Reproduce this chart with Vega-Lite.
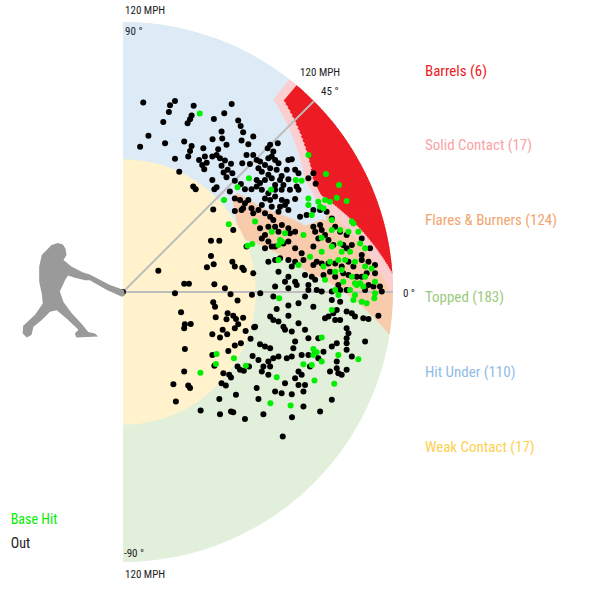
{
  "$schema": "https://vega.github.io/schema/vega-lite/v6.json",
  "width": 600,
  "height": 600,
  "autosize": {"type": "fit", "contains": "padding"},
  "padding": 0,
  "background": "white",
  "config": {"view": {"stroke": null}},
  "encoding": {
    "x": {"field": "x", "type": "quantitative", "scale": {"domain": [-54.67, 212], "nice": false, "zero": false}, "axis": null},
    "y": {"field": "y", "type": "quantitative", "scale": {"domain": [-136.89, 129.78], "nice": false, "zero": false}, "axis": null}
  },
  "layer": [
    {
      "data": {
        "values": [
          {"z": "Topped", "e1": 0, "e2": 120, "a1": -90, "a2": 90},
          {"z": "Hit Under", "e1": 59, "e2": 72.4, "a1": 25, "a2": 90},
          {"z": "Hit Under", "e1": 72, "e2": 86.4, "a1": 18, "a2": 90},
          {"z": "Hit Under", "e1": 86, "e2": 95.4, "a1": 12, "a2": 90},
          {"z": "Hit Under", "e1": 95, "e2": 120, "a1": 5, "a2": 90},
          {"z": "Flares & Burners", "e1": 71.45, "e2": 72.4, "a1": 13, "a2": 14.2},
          {"z": "Flares & Burners", "e1": 70.15, "e2": 72.4, "a1": 14, "a2": 15.2},
          {"z": "Flares & Burners", "e1": 68.85, "e2": 72.4, "a1": 15, "a2": 16.2},
          {"z": "Flares & Burners", "e1": 67.55, "e2": 72.4, "a1": 16, "a2": 17.2},
          {"z": "Flares & Burners", "e1": 66.25, "e2": 72.4, "a1": 17, "a2": 18.2},
          {"z": "Flares & Burners", "e1": 64.95, "e2": 72.4, "a1": 18, "a2": 19.2},
          {"z": "Flares & Burners", "e1": 63.65, "e2": 72.4, "a1": 19, "a2": 20.2},
          {"z": "Flares & Burners", "e1": 62.35, "e2": 72.4, "a1": 20, "a2": 21.2},
          {"z": "Flares & Burners", "e1": 61.05, "e2": 72.4, "a1": 21, "a2": 22.2},
          {"z": "Flares & Burners", "e1": 59.75, "e2": 72.4, "a1": 22, "a2": 23.2},
          {"z": "Flares & Burners", "e1": 59, "e2": 72.4, "a1": 23, "a2": 31.2},
          {"z": "Flares & Burners", "e1": 59.25, "e2": 71.75, "a1": 31, "a2": 32.2},
          {"z": "Flares & Burners", "e1": 59.75, "e2": 71.25, "a1": 32, "a2": 33.2},
          {"z": "Flares & Burners", "e1": 60.25, "e2": 70.75, "a1": 33, "a2": 34.2},
          {"z": "Flares & Burners", "e1": 60.75, "e2": 70.25, "a1": 34, "a2": 35.2},
          {"z": "Flares & Burners", "e1": 61.25, "e2": 69.75, "a1": 35, "a2": 36.2},
          {"z": "Flares & Burners", "e1": 61.75, "e2": 69.25, "a1": 36, "a2": 37.2},
          {"z": "Flares & Burners", "e1": 62.25, "e2": 68.75, "a1": 37, "a2": 38.2},
          {"z": "Flares & Burners", "e1": 62.75, "e2": 68.25, "a1": 38, "a2": 39.2},
          {"z": "Flares & Burners", "e1": 63.25, "e2": 67.75, "a1": 39, "a2": 40.2},
          {"z": "Flares & Burners", "e1": 63.75, "e2": 67.25, "a1": 40, "a2": 41},
          {"z": "Flares & Burners", "e1": 72, "e2": 73.3, "a1": 12.58, "a2": 30.38},
          {"z": "Flares & Burners", "e1": 73, "e2": 74.3, "a1": 11.94, "a2": 29.62},
          {"z": "Flares & Burners", "e1": 74, "e2": 75.3, "a1": 11.29, "a2": 28.85},
          {"z": "Flares & Burners", "e1": 75, "e2": 76.3, "a1": 10.65, "a2": 28.08},
          {"z": "Flares & Burners", "e1": 76, "e2": 77.3, "a1": 10, "a2": 27.31},
          {"z": "Flares & Burners", "e1": 77, "e2": 78.3, "a1": 9.35, "a2": 26.54},
          {"z": "Flares & Burners", "e1": 78, "e2": 79.3, "a1": 8.71, "a2": 25.77},
          {"z": "Flares & Burners", "e1": 79, "e2": 80.3, "a1": 8.06, "a2": 25},
          {"z": "Flares & Burners", "e1": 80, "e2": 81.3, "a1": 7.42, "a2": 24.23},
          {"z": "Flares & Burners", "e1": 81, "e2": 82.3, "a1": 6.77, "a2": 23.46},
          {"z": "Flares & Burners", "e1": 82, "e2": 83.3, "a1": 6.13, "a2": 22.69},
          {"z": "Flares & Burners", "e1": 83, "e2": 84.3, "a1": 5.48, "a2": 21.92},
          {"z": "Flares & Burners", "e1": 84, "e2": 85.3, "a1": 4.84, "a2": 21.15},
          {"z": "Flares & Burners", "e1": 85, "e2": 86.3, "a1": 4.19, "a2": 20.38},
          {"z": "Flares & Burners", "e1": 86, "e2": 87.3, "a1": 4.79, "a2": 20},
          {"z": "Flares & Burners", "e1": 87, "e2": 88.3, "a1": 4.38, "a2": 20},
          {"z": "Flares & Burners", "e1": 88, "e2": 89.3, "a1": 3.96, "a2": 20},
          {"z": "Flares & Burners", "e1": 89, "e2": 90.3, "a1": 3.54, "a2": 20},
          {"z": "Flares & Burners", "e1": 90, "e2": 91.3, "a1": 3.13, "a2": 20},
          {"z": "Flares & Burners", "e1": 91, "e2": 92.3, "a1": 2.71, "a2": 20},
          {"z": "Flares & Burners", "e1": 92, "e2": 93.3, "a1": 2.29, "a2": 20},
          {"z": "Flares & Burners", "e1": 93, "e2": 94.3, "a1": 1.88, "a2": 20},
          {"z": "Flares & Burners", "e1": 94, "e2": 95.3, "a1": 1.46, "a2": 20},
          {"z": "Flares & Burners", "e1": 95, "e2": 96.3, "a1": 1.04, "a2": 19.5},
          {"z": "Flares & Burners", "e1": 96, "e2": 97.3, "a1": 0.63, "a2": 20.5},
          {"z": "Flares & Burners", "e1": 97, "e2": 98.3, "a1": 0.21, "a2": 21.5},
          {"z": "Flares & Burners", "e1": 98, "e2": 99.3, "a1": -0.21, "a2": 22.5},
          {"z": "Flares & Burners", "e1": 99, "e2": 100.3, "a1": -0.63, "a2": 23.5},
          {"z": "Flares & Burners", "e1": 100, "e2": 101.3, "a1": -1.04, "a2": 24.5},
          {"z": "Flares & Burners", "e1": 101, "e2": 102.3, "a1": -1.46, "a2": 25.5},
          {"z": "Flares & Burners", "e1": 102, "e2": 103.3, "a1": -1.88, "a2": 26.5},
          {"z": "Flares & Burners", "e1": 103, "e2": 104.3, "a1": -2.29, "a2": 27.5},
          {"z": "Flares & Burners", "e1": 104, "e2": 105.3, "a1": -2.71, "a2": 28.5},
          {"z": "Flares & Burners", "e1": 105, "e2": 106.3, "a1": -3.13, "a2": 29.5},
          {"z": "Flares & Burners", "e1": 106, "e2": 107.3, "a1": -3.54, "a2": 30},
          {"z": "Flares & Burners", "e1": 107, "e2": 108.3, "a1": -3.96, "a2": 30},
          {"z": "Flares & Burners", "e1": 108, "e2": 109.3, "a1": -4.38, "a2": 30},
          {"z": "Flares & Burners", "e1": 109, "e2": 110.3, "a1": -4.79, "a2": 30},
          {"z": "Flares & Burners", "e1": 110, "e2": 111.3, "a1": -5.21, "a2": 30},
          {"z": "Flares & Burners", "e1": 111, "e2": 112.3, "a1": -5.63, "a2": 30},
          {"z": "Flares & Burners", "e1": 112, "e2": 113.3, "a1": -6.04, "a2": 30},
          {"z": "Flares & Burners", "e1": 113, "e2": 114.3, "a1": -6.46, "a2": 30},
          {"z": "Flares & Burners", "e1": 114, "e2": 115.3, "a1": -6.88, "a2": 30},
          {"z": "Flares & Burners", "e1": 115, "e2": 116.3, "a1": -7.29, "a2": 30},
          {"z": "Flares & Burners", "e1": 116, "e2": 117.3, "a1": -7.71, "a2": 30},
          {"z": "Flares & Burners", "e1": 117, "e2": 118.3, "a1": -8.13, "a2": 30},
          {"z": "Flares & Burners", "e1": 118, "e2": 119.3, "a1": -8.54, "a2": 30},
          {"z": "Flares & Burners", "e1": 119, "e2": 120, "a1": -8.96, "a2": 30},
          {"z": "Solid Contact", "e1": 118.75, "e2": 120, "a1": 0, "a2": 0.65},
          {"z": "Solid Contact", "e1": 118.25, "e2": 120, "a1": 0.5, "a2": 1.15},
          {"z": "Solid Contact", "e1": 117.75, "e2": 120, "a1": 1, "a2": 1.65},
          {"z": "Solid Contact", "e1": 117.25, "e2": 120, "a1": 1.5, "a2": 2.15},
          {"z": "Solid Contact", "e1": 116.75, "e2": 120, "a1": 2, "a2": 2.65},
          {"z": "Solid Contact", "e1": 116.25, "e2": 120, "a1": 2.5, "a2": 3.15},
          {"z": "Solid Contact", "e1": 115.75, "e2": 120, "a1": 3, "a2": 3.65},
          {"z": "Solid Contact", "e1": 115.25, "e2": 120, "a1": 3.5, "a2": 4.15},
          {"z": "Solid Contact", "e1": 114.75, "e2": 120, "a1": 4, "a2": 4.65},
          {"z": "Solid Contact", "e1": 114.25, "e2": 120, "a1": 4.5, "a2": 5.15},
          {"z": "Solid Contact", "e1": 113.75, "e2": 120, "a1": 5, "a2": 5.65},
          {"z": "Solid Contact", "e1": 113.25, "e2": 120, "a1": 5.5, "a2": 6.15},
          {"z": "Solid Contact", "e1": 112.75, "e2": 120, "a1": 6, "a2": 6.65},
          {"z": "Solid Contact", "e1": 112.25, "e2": 120, "a1": 6.5, "a2": 7.15},
          {"z": "Solid Contact", "e1": 111.75, "e2": 120, "a1": 7, "a2": 7.65},
          {"z": "Solid Contact", "e1": 111.25, "e2": 120, "a1": 7.5, "a2": 8.15},
          {"z": "Solid Contact", "e1": 110.75, "e2": 120, "a1": 8, "a2": 8.65},
          {"z": "Solid Contact", "e1": 110.25, "e2": 120, "a1": 8.5, "a2": 9.15},
          {"z": "Solid Contact", "e1": 109.75, "e2": 120, "a1": 9, "a2": 9.65},
          {"z": "Solid Contact", "e1": 109.25, "e2": 120, "a1": 9.5, "a2": 10.15},
          {"z": "Solid Contact", "e1": 108.75, "e2": 120, "a1": 10, "a2": 10.65},
          {"z": "Solid Contact", "e1": 108.25, "e2": 120, "a1": 10.5, "a2": 11.15},
          {"z": "Solid Contact", "e1": 107.75, "e2": 120, "a1": 11, "a2": 11.65},
          {"z": "Solid Contact", "e1": 107.25, "e2": 120, "a1": 11.5, "a2": 12.15},
          {"z": "Solid Contact", "e1": 106.75, "e2": 120, "a1": 12, "a2": 12.65},
          {"z": "Solid Contact", "e1": 106.25, "e2": 120, "a1": 12.5, "a2": 13.15},
          {"z": "Solid Contact", "e1": 105.75, "e2": 120, "a1": 13, "a2": 13.65},
          {"z": "Solid Contact", "e1": 105.25, "e2": 120, "a1": 13.5, "a2": 14.15},
          {"z": "Solid Contact", "e1": 104.75, "e2": 120, "a1": 14, "a2": 14.65},
          {"z": "Solid Contact", "e1": 104.25, "e2": 120, "a1": 14.5, "a2": 15.15},
          {"z": "Solid Contact", "e1": 103.75, "e2": 120, "a1": 15, "a2": 15.65},
          {"z": "Solid Contact", "e1": 103.25, "e2": 120, "a1": 15.5, "a2": 16.15},
          {"z": "Solid Contact", "e1": 102.75, "e2": 120, "a1": 16, "a2": 16.65},
          {"z": "Solid Contact", "e1": 102.25, "e2": 120, "a1": 16.5, "a2": 17.15},
          {"z": "Solid Contact", "e1": 101.75, "e2": 120, "a1": 17, "a2": 17.65},
          {"z": "Solid Contact", "e1": 101.25, "e2": 120, "a1": 17.5, "a2": 18.15},
          {"z": "Solid Contact", "e1": 100.75, "e2": 120, "a1": 18, "a2": 18.65},
          {"z": "Solid Contact", "e1": 100.25, "e2": 120, "a1": 18.5, "a2": 19.15},
          {"z": "Solid Contact", "e1": 99.75, "e2": 120, "a1": 19, "a2": 19.65},
          {"z": "Solid Contact", "e1": 99.25, "e2": 120, "a1": 19.5, "a2": 20.15},
          {"z": "Solid Contact", "e1": 98.75, "e2": 120, "a1": 20, "a2": 20.65},
          {"z": "Solid Contact", "e1": 98.25, "e2": 120, "a1": 20.5, "a2": 21.15},
          {"z": "Solid Contact", "e1": 97.75, "e2": 120, "a1": 21, "a2": 21.65},
          {"z": "Solid Contact", "e1": 97.25, "e2": 120, "a1": 21.5, "a2": 22.15},
          {"z": "Solid Contact", "e1": 96.75, "e2": 120, "a1": 22, "a2": 22.65},
          {"z": "Solid Contact", "e1": 96.25, "e2": 120, "a1": 22.5, "a2": 23.15},
          {"z": "Solid Contact", "e1": 95.75, "e2": 120, "a1": 23, "a2": 23.65},
          {"z": "Solid Contact", "e1": 95.25, "e2": 120, "a1": 23.5, "a2": 24.15},
          {"z": "Solid Contact", "e1": 95, "e2": 120, "a1": 24, "a2": 32.2},
          {"z": "Solid Contact", "e1": 95.67, "e2": 120, "a1": 32, "a2": 33.2},
          {"z": "Solid Contact", "e1": 96.33, "e2": 120, "a1": 33, "a2": 34.2},
          {"z": "Solid Contact", "e1": 97, "e2": 120, "a1": 34, "a2": 35.2},
          {"z": "Solid Contact", "e1": 97.67, "e2": 120, "a1": 35, "a2": 36.2},
          {"z": "Solid Contact", "e1": 98.33, "e2": 120, "a1": 36, "a2": 37.2},
          {"z": "Solid Contact", "e1": 99, "e2": 120, "a1": 37, "a2": 38.2},
          {"z": "Solid Contact", "e1": 99.67, "e2": 120, "a1": 38, "a2": 39.2},
          {"z": "Solid Contact", "e1": 100.33, "e2": 120, "a1": 39, "a2": 40.2},
          {"z": "Solid Contact", "e1": 101, "e2": 120, "a1": 40, "a2": 41.2},
          {"z": "Solid Contact", "e1": 101.67, "e2": 120, "a1": 41, "a2": 42.2},
          {"z": "Solid Contact", "e1": 102.33, "e2": 120, "a1": 42, "a2": 43.2},
          {"z": "Solid Contact", "e1": 103, "e2": 120, "a1": 43, "a2": 44.2},
          {"z": "Solid Contact", "e1": 103.67, "e2": 120, "a1": 44, "a2": 45.2},
          {"z": "Solid Contact", "e1": 104.33, "e2": 120, "a1": 45, "a2": 46.2},
          {"z": "Solid Contact", "e1": 105, "e2": 120, "a1": 46, "a2": 47.2},
          {"z": "Solid Contact", "e1": 105.67, "e2": 120, "a1": 47, "a2": 48.2},
          {"z": "Solid Contact", "e1": 106.33, "e2": 120, "a1": 48, "a2": 49.2},
          {"z": "Solid Contact", "e1": 107, "e2": 120, "a1": 49, "a2": 50.2},
          {"z": "Solid Contact", "e1": 107.67, "e2": 120, "a1": 50, "a2": 51.2},
          {"z": "Solid Contact", "e1": 108.33, "e2": 120, "a1": 51, "a2": 52},
          {"z": "Barrels", "e1": 119.75, "e2": 120, "a1": 4, "a2": 4.65},
          {"z": "Barrels", "e1": 119.25, "e2": 120, "a1": 4.5, "a2": 5.15},
          {"z": "Barrels", "e1": 118.75, "e2": 120, "a1": 5, "a2": 5.65},
          {"z": "Barrels", "e1": 118.25, "e2": 120, "a1": 5.5, "a2": 6.15},
          {"z": "Barrels", "e1": 117.75, "e2": 120, "a1": 6, "a2": 6.65},
          {"z": "Barrels", "e1": 117.25, "e2": 120, "a1": 6.5, "a2": 7.15},
          {"z": "Barrels", "e1": 116.75, "e2": 120, "a1": 7, "a2": 7.65},
          {"z": "Barrels", "e1": 116.25, "e2": 120, "a1": 7.5, "a2": 8.15},
          {"z": "Barrels", "e1": 115.75, "e2": 120, "a1": 8, "a2": 8.65},
          {"z": "Barrels", "e1": 115.25, "e2": 120, "a1": 8.5, "a2": 9.15},
          {"z": "Barrels", "e1": 114.75, "e2": 120, "a1": 9, "a2": 9.65},
          {"z": "Barrels", "e1": 114.25, "e2": 120, "a1": 9.5, "a2": 10.15},
          {"z": "Barrels", "e1": 113.75, "e2": 120, "a1": 10, "a2": 10.65},
          {"z": "Barrels", "e1": 113.25, "e2": 120, "a1": 10.5, "a2": 11.15},
          {"z": "Barrels", "e1": 112.75, "e2": 120, "a1": 11, "a2": 11.65},
          {"z": "Barrels", "e1": 112.25, "e2": 120, "a1": 11.5, "a2": 12.15},
          {"z": "Barrels", "e1": 111.75, "e2": 120, "a1": 12, "a2": 12.65},
          {"z": "Barrels", "e1": 111.25, "e2": 120, "a1": 12.5, "a2": 13.15},
          {"z": "Barrels", "e1": 110.75, "e2": 120, "a1": 13, "a2": 13.65},
          {"z": "Barrels", "e1": 110.25, "e2": 120, "a1": 13.5, "a2": 14.15},
          {"z": "Barrels", "e1": 109.75, "e2": 120, "a1": 14, "a2": 14.65},
          {"z": "Barrels", "e1": 109.25, "e2": 120, "a1": 14.5, "a2": 15.15},
          {"z": "Barrels", "e1": 108.75, "e2": 120, "a1": 15, "a2": 15.65},
          {"z": "Barrels", "e1": 108.25, "e2": 120, "a1": 15.5, "a2": 16.15},
          {"z": "Barrels", "e1": 107.75, "e2": 120, "a1": 16, "a2": 16.65},
          {"z": "Barrels", "e1": 107.25, "e2": 120, "a1": 16.5, "a2": 17.15},
          {"z": "Barrels", "e1": 106.75, "e2": 120, "a1": 17, "a2": 17.65},
          {"z": "Barrels", "e1": 106.25, "e2": 120, "a1": 17.5, "a2": 18.15},
          {"z": "Barrels", "e1": 105.75, "e2": 120, "a1": 18, "a2": 18.65},
          {"z": "Barrels", "e1": 105.25, "e2": 120, "a1": 18.5, "a2": 19.15},
          {"z": "Barrels", "e1": 104.75, "e2": 120, "a1": 19, "a2": 19.65},
          {"z": "Barrels", "e1": 104.25, "e2": 120, "a1": 19.5, "a2": 20.15},
          {"z": "Barrels", "e1": 103.75, "e2": 120, "a1": 20, "a2": 20.65},
          {"z": "Barrels", "e1": 103.25, "e2": 120, "a1": 20.5, "a2": 21.15},
          {"z": "Barrels", "e1": 102.75, "e2": 120, "a1": 21, "a2": 21.65},
          {"z": "Barrels", "e1": 102.25, "e2": 120, "a1": 21.5, "a2": 22.15},
          {"z": "Barrels", "e1": 101.75, "e2": 120, "a1": 22, "a2": 22.65},
          {"z": "Barrels", "e1": 101.25, "e2": 120, "a1": 22.5, "a2": 23.15},
          {"z": "Barrels", "e1": 100.75, "e2": 120, "a1": 23, "a2": 23.65},
          {"z": "Barrels", "e1": 100.25, "e2": 120, "a1": 23.5, "a2": 24.15},
          {"z": "Barrels", "e1": 99.75, "e2": 120, "a1": 24, "a2": 24.65},
          {"z": "Barrels", "e1": 99.25, "e2": 120, "a1": 24.5, "a2": 25.15},
          {"z": "Barrels", "e1": 98.75, "e2": 120, "a1": 25, "a2": 25.65},
          {"z": "Barrels", "e1": 98.25, "e2": 120, "a1": 25.5, "a2": 26.15},
          {"z": "Barrels", "e1": 98, "e2": 120, "a1": 26, "a2": 30.2},
          {"z": "Barrels", "e1": 98.33, "e2": 120, "a1": 30, "a2": 31.2},
          {"z": "Barrels", "e1": 99, "e2": 120, "a1": 31, "a2": 32.2},
          {"z": "Barrels", "e1": 99.67, "e2": 120, "a1": 32, "a2": 33.2},
          {"z": "Barrels", "e1": 100.33, "e2": 120, "a1": 33, "a2": 34.2},
          {"z": "Barrels", "e1": 101, "e2": 120, "a1": 34, "a2": 35.2},
          {"z": "Barrels", "e1": 101.67, "e2": 120, "a1": 35, "a2": 36.2},
          {"z": "Barrels", "e1": 102.33, "e2": 120, "a1": 36, "a2": 37.2},
          {"z": "Barrels", "e1": 103, "e2": 120, "a1": 37, "a2": 38.2},
          {"z": "Barrels", "e1": 103.67, "e2": 120, "a1": 38, "a2": 39.2},
          {"z": "Barrels", "e1": 104.33, "e2": 120, "a1": 39, "a2": 40.2},
          {"z": "Barrels", "e1": 105, "e2": 120, "a1": 40, "a2": 41.2},
          {"z": "Barrels", "e1": 105.67, "e2": 120, "a1": 41, "a2": 42.2},
          {"z": "Barrels", "e1": 106.33, "e2": 120, "a1": 42, "a2": 43.2},
          {"z": "Barrels", "e1": 107, "e2": 120, "a1": 43, "a2": 44.2},
          {"z": "Barrels", "e1": 107.67, "e2": 120, "a1": 44, "a2": 45.2},
          {"z": "Barrels", "e1": 108.33, "e2": 120, "a1": 45, "a2": 46.2},
          {"z": "Barrels", "e1": 109, "e2": 120, "a1": 46, "a2": 47.2},
          {"z": "Barrels", "e1": 109.67, "e2": 120, "a1": 47, "a2": 48.2},
          {"z": "Barrels", "e1": 110.33, "e2": 120, "a1": 48, "a2": 49.2},
          {"z": "Barrels", "e1": 111, "e2": 120, "a1": 49, "a2": 50},
          {"z": "Weak Contact", "e1": 0, "e2": 59, "a1": -90, "a2": 90}
        ]
      },
      "mark": {"type": "arc", "x": {"expr": "scale('x', 0)"}, "y": {"expr": "scale('y', 0)"}},
      "encoding": {
        "x": null,
        "y": null,
        "theta": {"field": "a1", "type": "quantitative", "stack": null, "scale": {"type": "linear", "domain": [-90, 90], "range": [3.14159265, 0]}},
        "theta2": {"field": "a2"},
        "radius": {"field": "e2", "type": "quantitative", "scale": {"type": "linear", "domain": [0, 120], "range": [0, 270], "zero": false}},
        "radius2": {"field": "e1"},
        "color": {
          "field": "z",
          "type": "nominal",
          "scale": {
            "domain": ["Barrels", "Solid Contact", "Flares & Burners", "Topped", "Hit Under", "Weak Contact"],
            "range": ["#ed1c24", "#fbcfd0", "#f8cbad", "#e2efda", "#ddebf7", "#fff2cc"]
          },
          "legend": null
        }
      }
    },
    {
      "data": {"values": [{"x": 0, "y": 0, "x2": 84.85, "y2": 84.85}, {"x": 0, "y": 0, "x2": 120, "y2": 0}]},
      "mark": {"type": "rule", "color": "#bdbdbd", "strokeWidth": 2},
      "encoding": {"x2": {"field": "x2"}, "y2": {"field": "y2"}}
    },
    {
      "data": {
        "values": [
          {"x":9,"y":84.2,"r":"Out"},{"x":23.1,"y":84.9,"r":"Out"},{"x":20.9,"y":83,"r":"Out"},{"x":20.4,"y":80,"r":"Out"},{"x":31.4,"y":82.8,"r":"Out"},
          {"x":17.9,"y":75.6,"r":"Out"},{"x":30.5,"y":78.5,"r":"Out"},{"x":29.8,"y":76.8,"r":"Out"},{"x":28.7,"y":75,"r":"Out"},{"x":40.4,"y":76.9,"r":"Out"},
          {"x":45,"y":79.4,"r":"Out"},{"x":48.3,"y":83.6,"r":"Out"},{"x":51.2,"y":76.2,"r":"Out"},{"x":52.3,"y":73.8,"r":"Out"},{"x":53.4,"y":71,"r":"Out"},
          {"x":11.3,"y":69.5,"r":"Out"},{"x":7.6,"y":64.6,"r":"Out"},{"x":18.7,"y":66.1,"r":"Out"},{"x":27.2,"y":66.9,"r":"Out"},{"x":30.5,"y":64.9,"r":"Out"},
          {"x":29.8,"y":62.7,"r":"Out"},{"x":29,"y":60.2,"r":"Out"},{"x":23.1,"y":59.2,"r":"Out"},{"x":35.7,"y":63.9,"r":"Out"},{"x":39.8,"y":67.9,"r":"Out"},
          {"x":43.8,"y":71.3,"r":"Out"},{"x":44.1,"y":68.2,"r":"Out"},{"x":46,"y":65.4,"r":"Out"},{"x":52.7,"y":67.3,"r":"Out"},{"x":55.7,"y":65.7,"r":"Out"},
          {"x":57.9,"y":69.1,"r":"Out"},{"x":42.3,"y":63.5,"r":"Out"},{"x":39.7,"y":60.2,"r":"Out"},{"x":41.6,"y":60.9,"r":"Out"},{"x":36.4,"y":60.2,"r":"Out"},
          {"x":33.8,"y":58.7,"r":"Out"},{"x":35.2,"y":56.5,"r":"Out"},{"x":37.2,"y":57.5,"r":"Out"},{"x":36.1,"y":54.6,"r":"Out"},{"x":43.1,"y":59.5,"r":"Out"},
          {"x":45.3,"y":58.4,"r":"Out"},{"x":43.8,"y":56.1,"r":"Out"},{"x":48,"y":57,"r":"Out"},{"x":46.5,"y":54.3,"r":"Out"},{"x":44.7,"y":53.1,"r":"Out"},
          {"x":48.6,"y":52.8,"r":"Out"},{"x":46,"y":51,"r":"Out"},{"x":25,"y":53.5,"r":"Out"},{"x":39.7,"y":49.8,"r":"Out"},{"x":41.6,"y":46.6,"r":"Out"},
          {"x":40.6,"y":45.7,"r":"Out"},{"x":31.2,"y":46.9,"r":"Out"},{"x":32.3,"y":45.7,"r":"Out"},{"x":49.7,"y":49.5,"r":"Out"},{"x":52.4,"y":48,"r":"Out"},
          {"x":54.2,"y":45.7,"r":"Out"},{"x":57.1,"y":45.7,"r":"Out"},{"x":59.4,"y":49.8,"r":"Out"},{"x":54.9,"y":60.9,"r":"Out"},{"x":57.9,"y":60.9,"r":"Out"},
          {"x":53,"y":57.2,"r":"Out"},{"x":56.4,"y":56.9,"r":"Out"},{"x":47.5,"y":44.7,"r":"Out"},
          {"x":68.8,"y":66.1,"r":"Out"},{"x":65.4,"y":65.4,"r":"Out"},{"x":64.3,"y":63.9,"r":"Out"},{"x":66.8,"y":62.4,"r":"Out"},{"x":66.1,"y":60.2,"r":"Out"},
          {"x":64.6,"y":59.5,"r":"Out"},{"x":67.6,"y":58.7,"r":"Out"},{"x":69.1,"y":57.2,"r":"Out"},{"x":68.3,"y":54.3,"r":"Out"},{"x":65.4,"y":55,"r":"Out"},
          {"x":63.1,"y":56.5,"r":"Out"},{"x":60.9,"y":58,"r":"Out"},{"x":59.4,"y":58.7,"r":"Out"},{"x":60.2,"y":55,"r":"Out"},{"x":61.7,"y":53.5,"r":"Out"},
          {"x":64.6,"y":52.1,"r":"Out"},{"x":66.1,"y":50.6,"r":"Out"},{"x":63.1,"y":49.8,"r":"Out"},{"x":60.9,"y":48.4,"r":"Out"},{"x":73.5,"y":58.7,"r":"Out"},
          {"x":75,"y":59,"r":"Out"},{"x":72.8,"y":54.3,"r":"Out"},{"x":76.5,"y":54.3,"r":"Out"},{"x":78,"y":52.8,"r":"Out"},{"x":70.5,"y":51.6,"r":"Out"},
          {"x":69.8,"y":49.8,"r":"Out"},{"x":73.5,"y":50.1,"r":"Out"},{"x":71.3,"y":47.6,"r":"Out"},{"x":67.6,"y":47.6,"r":"Out"},{"x":77.2,"y":46.9,"r":"Out"},
          {"x":78,"y":45.4,"r":"Out"},{"x":74.2,"y":45.4,"r":"Out"},{"x":70.5,"y":45.4,"r":"Out"},{"x":67.6,"y":45.4,"r":"Out"},{"x":64.6,"y":43.9,"r":"Out"},
          {"x":61.7,"y":45.4,"r":"Out"},{"x":59.4,"y":46.9,"r":"Out"},{"x":82.4,"y":50.6,"r":"Out"},{"x":84.6,"y":52.8,"r":"Out"},{"x":85.6,"y":48.1,"r":"Out"},
          {"x":40.1,"y":36.7,"r":"Out"},{"x":49,"y":27.6,"r":"Out"},{"x":39.1,"y":22.8,"r":"Out"},{"x":42.8,"y":22.8,"r":"Out"},{"x":39.1,"y":16,"r":"Out"},
          {"x":37.3,"y":11,"r":"Out"},{"x":40.3,"y":12.3,"r":"Out"},{"x":48.6,"y":13.5,"r":"Out"},{"x":49.7,"y":11.3,"r":"Out"},{"x":53,"y":10.8,"r":"Out"},
          {"x":53.7,"y":9.8,"r":"Out"},{"x":57.9,"y":8.3,"r":"Out"},{"x":15.7,"y":9.4,"r":"Out"},{"x":27.2,"y":3.7,"r":"Out"},{"x":29.3,"y":3.7,"r":"Out"},
          {"x":40.6,"y":3.4,"r":"Out"},{"x":45.3,"y":1.7,"r":"Out"},{"x":23.1,"y":-0.6,"r":"Out"},{"x":54.9,"y":20.2,"r":"Out"},{"x":49.7,"y":41.6,"r":"Out"},
          {"x":52,"y":40.9,"r":"Out"},{"x":54.2,"y":39.4,"r":"Out"},{"x":52.7,"y":36.4,"r":"Out"},{"x":49.7,"y":36,"r":"Out"},{"x":55.7,"y":40.9,"r":"Out"},
          {"x":57.1,"y":37.2,"r":"Out"},{"x":53.4,"y":37.2,"r":"Out"},{"x":57.9,"y":35,"r":"Out"},{"x":47.8,"y":-1,"r":"Out"},{"x":57.3,"y":-1.2,"r":"Out"},
          {"x":61,"y":-0.5,"r":"Out"},
          {"x":63.1,"y":41.6,"r":"Out"},{"x":65.4,"y":40.9,"r":"Out"},{"x":67.6,"y":42.4,"r":"Out"},{"x":70.6,"y":40.9,"r":"Out"},{"x":72.8,"y":40.1,"r":"Out"},
          {"x":76.5,"y":41.3,"r":"Out"},{"x":61.7,"y":38.7,"r":"Out"},{"x":66.1,"y":37.9,"r":"Out"},{"x":69.8,"y":37.9,"r":"Out"},{"x":72,"y":38.7,"r":"Out"},
          {"x":60.2,"y":36.4,"r":"Out"},{"x":63.1,"y":35,"r":"Out"},{"x":65.4,"y":33.5,"r":"Out"},{"x":66.8,"y":32,"r":"Out"},{"x":69.1,"y":35.7,"r":"Out"},
          {"x":73.5,"y":36.4,"r":"Out"},{"x":78.7,"y":33.5,"r":"Out"},{"x":81.6,"y":34.2,"r":"Out"},{"x":84.6,"y":36.4,"r":"Out"},{"x":87.6,"y":36.4,"r":"Out"},
          {"x":90.5,"y":35.7,"r":"Out"},{"x":92.8,"y":32.7,"r":"Out"},{"x":60.9,"y":28.3,"r":"Out"},{"x":64.6,"y":29,"r":"Out"},{"x":67.6,"y":29,"r":"Out"},
          {"x":69.1,"y":26.8,"r":"Out"},{"x":70.6,"y":29.8,"r":"Out"},{"x":73.5,"y":28.3,"r":"Out"},{"x":74.2,"y":26.1,"r":"Out"},{"x":76.5,"y":26.8,"r":"Out"},
          {"x":84.6,"y":29,"r":"Out"},{"x":85.4,"y":26.8,"r":"Out"},{"x":87.6,"y":29.8,"r":"Out"},{"x":88.3,"y":27.6,"r":"Out"},{"x":89.8,"y":25.3,"r":"Out"},
          {"x":94.3,"y":29,"r":"Out"},{"x":96.5,"y":26.8,"r":"Out"},{"x":99.4,"y":25.3,"r":"Out"},{"x":106.1,"y":23.8,"r":"Out"},{"x":63.1,"y":25.3,"r":"Out"},
          {"x":61.7,"y":23.8,"r":"Out"},{"x":64.6,"y":22.4,"r":"Out"},{"x":66.1,"y":20.2,"r":"Out"},{"x":63.1,"y":19.4,"r":"Out"},{"x":67.6,"y":20.2,"r":"Out"},
          {"x":71.3,"y":21.6,"r":"Out"},{"x":73.5,"y":22.4,"r":"Out"},{"x":76.5,"y":19.4,"r":"Out"},{"x":79.4,"y":17.2,"r":"Out"},{"x":84.6,"y":20.2,"r":"Out"},
          {"x":86.8,"y":23.8,"r":"Out"},{"x":91.3,"y":23.1,"r":"Out"},{"x":93.5,"y":20.9,"r":"Out"},{"x":97.9,"y":20.9,"r":"Out"},{"x":99.4,"y":19.4,"r":"Out"},
          {"x":101.7,"y":20.9,"r":"Out"},{"x":106.1,"y":16.4,"r":"Out"},{"x":109.8,"y":19.4,"r":"Out"},{"x":64.6,"y":13.5,"r":"Out"},{"x":67.6,"y":14.2,"r":"Out"},
          {"x":69.8,"y":15,"r":"Out"},{"x":73.5,"y":14.2,"r":"Out"},{"x":76.5,"y":13.5,"r":"Out"},{"x":75,"y":11.3,"r":"Out"},{"x":80.2,"y":14.2,"r":"Out"},
          {"x":84.6,"y":12,"r":"Out"},{"x":86.1,"y":13.5,"r":"Out"},{"x":88.3,"y":12.7,"r":"Out"},{"x":91.3,"y":12.7,"r":"Out"},{"x":94.3,"y":12.7,"r":"Out"},
          {"x":97.2,"y":11.3,"r":"Out"},{"x":100.2,"y":13.5,"r":"Out"},{"x":102.4,"y":11.3,"r":"Out"},{"x":106.1,"y":14.2,"r":"Out"},{"x":109.1,"y":13.5,"r":"Out"},
          {"x":112,"y":12,"r":"Out"},{"x":69.1,"y":9,"r":"Out"},{"x":73.5,"y":6.8,"r":"Out"},{"x":76.5,"y":4.6,"r":"Out"},{"x":80.9,"y":7.6,"r":"Out"},
          {"x":83.9,"y":6.8,"r":"Out"},{"x":85.4,"y":5.4,"r":"Out"},{"x":89.1,"y":7.6,"r":"Out"},{"x":92,"y":9,"r":"Out"},{"x":94.3,"y":6.8,"r":"Out"},
          {"x":97.9,"y":8.3,"r":"Out"},{"x":100.2,"y":7.6,"r":"Out"},{"x":103.9,"y":6.8,"r":"Out"},{"x":106.1,"y":6.8,"r":"Out"},{"x":108.3,"y":8.3,"r":"Out"},
          {"x":112,"y":8.3,"r":"Out"},{"x":67.6,"y":2.4,"r":"Out"},{"x":72,"y":4.6,"r":"Out"},{"x":73.5,"y":1.7,"r":"Out"},{"x":77.2,"y":3.1,"r":"Out"},
          {"x":82.4,"y":3.1,"r":"Out"},{"x":82.4,"y":0.9,"r":"Out"},{"x":86.1,"y":0.9,"r":"Out"},{"x":88.3,"y":0.2,"r":"Out"},{"x":92.8,"y":0.2,"r":"Out"},
          {"x":95.7,"y":3.1,"r":"Out"},{"x":96.5,"y":0.9,"r":"Out"},{"x":99.4,"y":0.9,"r":"Out"},{"x":107.6,"y":0.9,"r":"Out"},{"x":109.1,"y":3.1,"r":"Out"},
          {"x":111.3,"y":2.4,"r":"Out"},{"x":114.2,"y":2.4,"r":"Out"},{"x":115,"y":0.2,"r":"Out"},
          {"x":40.1,"y":-4.6,"r":"Out"},{"x":40.9,"y":-6.5,"r":"Out"},{"x":50.9,"y":-3.8,"r":"Out"},{"x":25.8,"y":-9,"r":"Out"},{"x":41.2,"y":-11.2,"r":"Out"},
          {"x":46.5,"y":-9.4,"r":"Out"},{"x":49,"y":-10.5,"r":"Out"},{"x":46,"y":-12.1,"r":"Out"},{"x":50.2,"y":-12,"r":"Out"},{"x":53.4,"y":-11.4,"r":"Out"},
          {"x":51.2,"y":-14.3,"r":"Out"},{"x":49.7,"y":-16.1,"r":"Out"},{"x":27.5,"y":-14.3,"r":"Out"},{"x":30.1,"y":-14.2,"r":"Out"},{"x":27.2,"y":-16.1,"r":"Out"},
          {"x":39.7,"y":-18.8,"r":"Out"},{"x":44.3,"y":-16.8,"r":"Out"},{"x":43.1,"y":-20.2,"r":"Out"},{"x":46.3,"y":-18.8,"r":"Out"},{"x":54.5,"y":-17.3,"r":"Out"},
          {"x":58.3,"y":-15.7,"r":"Out"},{"x":56.7,"y":-20.8,"r":"Out"},{"x":52.4,"y":-22.8,"r":"Out"},{"x":49.7,"y":-23.8,"r":"Out"},{"x":27.5,"y":-25.3,"r":"Out"},
          {"x":39.7,"y":-28,"r":"Out"},{"x":46.8,"y":-26.2,"r":"Out"},{"x":57.6,"y":-28.4,"r":"Out"},{"x":50.9,"y":-33.1,"r":"Out"},{"x":52,"y":-34.6,"r":"Out"},
          {"x":53.7,"y":-35,"r":"Out"},{"x":56,"y":-33.1,"r":"Out"},{"x":40.6,"y":-32.8,"r":"Out"},{"x":44.6,"y":-36.1,"r":"Out"},{"x":47.2,"y":-36.8,"r":"Out"},
          {"x":48,"y":-38,"r":"Out"},{"x":27.2,"y":-35.3,"r":"Out"},{"x":22.4,"y":-41,"r":"Out"},{"x":29,"y":-41.6,"r":"Out"},{"x":29.8,"y":-42.7,"r":"Out"},
          {"x":43.8,"y":-40.5,"r":"Out"},{"x":45.7,"y":-41.6,"r":"Out"},{"x":50.2,"y":-45.7,"r":"Out"},{"x":42.8,"y":-47.5,"r":"Out"},{"x":23.5,"y":-48.7,"r":"Out"},
          {"x":34.5,"y":-52.7,"r":"Out"},{"x":43.1,"y":-54.3,"r":"Out"},{"x":48,"y":-53.1,"r":"Out"},{"x":49,"y":-53.4,"r":"Out"},{"x":54.2,"y":-56.5,"r":"Out"},
          {"x":75.1,"y":-55.7,"r":"Out"},
          {"x":66.8,"y":-2,"r":"Out"},{"x":80.9,"y":-2,"r":"Out"},{"x":92.8,"y":-3.5,"r":"Out"},{"x":96.5,"y":-4.3,"r":"Out"},{"x":73.5,"y":-6,"r":"Out"},
          {"x":78,"y":-5,"r":"Out"},{"x":84.6,"y":-6.5,"r":"Out"},{"x":68.3,"y":-7.5,"r":"Out"},{"x":65.4,"y":-10.9,"r":"Out"},{"x":66.8,"y":-12.4,"r":"Out"},
          {"x":73.5,"y":-10.5,"r":"Out"},{"x":69.1,"y":-13.1,"r":"Out"},{"x":78,"y":-13.9,"r":"Out"},{"x":89.8,"y":-11.7,"r":"Out"},{"x":91.3,"y":-10.9,"r":"Out"},
          {"x":93.5,"y":-9.4,"r":"Out"},{"x":95,"y":-8,"r":"Out"},{"x":94.3,"y":-12.4,"r":"Out"},{"x":96.5,"y":-12.4,"r":"Out"},{"x":99.4,"y":-8.7,"r":"Out"},
          {"x":101.7,"y":-9.4,"r":"Out"},{"x":103.1,"y":-10.9,"r":"Out"},{"x":106.8,"y":-11.7,"r":"Out"},{"x":109.1,"y":-12,"r":"Out"},{"x":113.5,"y":-10.5,"r":"Out"},
          {"x":58.7,"y":-15.4,"r":"Out"},{"x":71.3,"y":-15.4,"r":"Out"},{"x":72,"y":-16.8,"r":"Out"},{"x":75,"y":-17.6,"r":"Out"},{"x":80.9,"y":-16.8,"r":"Out"},
          {"x":99.4,"y":-16.1,"r":"Out"},{"x":100.2,"y":-18.3,"r":"Out"},{"x":99.4,"y":-20.5,"r":"Out"},{"x":82.4,"y":-20.5,"r":"Out"},{"x":86.8,"y":-20.5,"r":"Out"},
          {"x":76.5,"y":-22,"r":"Out"},{"x":75.7,"y":-25,"r":"Out"},{"x":60.9,"y":-23.2,"r":"Out"},{"x":63.1,"y":-24.2,"r":"Out"},{"x":65.4,"y":-25,"r":"Out"},
          {"x":92.8,"y":-24.2,"r":"Out"},{"x":95,"y":-22.8,"r":"Out"},{"x":99.4,"y":-22.8,"r":"Out"},{"x":99.4,"y":-25.7,"r":"Out"},{"x":101.7,"y":-28.7,"r":"Out"},
          {"x":89.1,"y":-26.5,"r":"Out"},{"x":85.4,"y":-27.2,"r":"Out"},{"x":86.8,"y":-29.4,"r":"Out"},{"x":82.4,"y":-28,"r":"Out"},{"x":79.4,"y":-28,"r":"Out"},
          {"x":75,"y":-28.7,"r":"Out"},{"x":72.8,"y":-29.4,"r":"Out"},{"x":69.1,"y":-28.7,"r":"Out"},{"x":66.8,"y":-29.4,"r":"Out"},{"x":64.6,"y":-30.9,"r":"Out"},
          {"x":62.4,"y":-33.1,"r":"Out"},{"x":65.4,"y":-33.1,"r":"Out"},{"x":64.6,"y":-36.8,"r":"Out"},{"x":61.7,"y":-35.3,"r":"Out"},{"x":60.2,"y":-30.2,"r":"Out"},
          {"x":78,"y":-35.3,"r":"Out"},{"x":79.4,"y":-36.8,"r":"Out"},{"x":76.5,"y":-38.3,"r":"Out"},{"x":83.1,"y":-33.1,"r":"Out"},{"x":92,"y":-35.3,"r":"Out"},
          {"x":95,"y":-33.9,"r":"Out"},{"x":95.7,"y":-36.1,"r":"Out"},{"x":97.2,"y":-36.8,"r":"Out"},{"x":99.4,"y":-34.6,"r":"Out"},{"x":95,"y":-30.9,"r":"Out"},
          {"x":107.6,"y":-22,"r":"Out"},{"x":59.4,"y":-42.7,"r":"Out"},{"x":60.2,"y":-47.5,"r":"Out"},{"x":72,"y":-40.5,"r":"Out"},{"x":67.6,"y":-44.2,"r":"Out"},
          {"x":70.5,"y":-45,"r":"Out"},{"x":75,"y":-45.4,"r":"Out"},{"x":80.9,"y":-41.3,"r":"Out"},{"x":78,"y":-41.3,"r":"Out"},{"x":80.2,"y":-44.2,"r":"Out"},
          {"x":80.2,"y":-50.9,"r":"Out"},{"x":87.6,"y":-53.1,"r":"Out"},{"x":92.8,"y":-47.9,"r":"Out"},{"x":62.4,"y":-54.3,"r":"Out"},{"x":71,"y":-64.2,"r":"Out"},
          {"x":34.1,"y":79.3,"r":"Base Hit"},{"x":56,"y":50.6,"r":"Base Hit"},{"x":50.9,"y":46.6,"r":"Base Hit"},
          {"x":82.4,"y":60.9,"r":"Base Hit"},{"x":90.2,"y":52.4,"r":"Base Hit"},{"x":96,"y":47.6,"r":"Base Hit"},{"x":76.8,"y":49.8,"r":"Base Hit"},{"x":79.4,"y":49.5,"r":"Base Hit"},
          {"x":65.8,"y":45.4,"r":"Base Hit"},{"x":44.9,"y":40.9,"r":"Base Hit"},{"x":47,"y":30.1,"r":"Base Hit"},{"x":57.4,"y":21.3,"r":"Base Hit"},{"x":55.4,"y":20.6,"r":"Base Hit"},
          {"x":82.4,"y":41.6,"r":"Base Hit"},{"x":82.4,"y":38.7,"r":"Base Hit"},{"x":86.8,"y":40.1,"r":"Base Hit"},{"x":89.8,"y":40.9,"r":"Base Hit"},{"x":95,"y":41.9,"r":"Base Hit"},
          {"x":99.4,"y":40.4,"r":"Base Hit"},{"x":92,"y":40.1,"r":"Base Hit"},{"x":58.7,"y":31.3,"r":"Base Hit"},{"x":89.1,"y":37.2,"r":"Base Hit"},{"x":83.9,"y":34.2,"r":"Base Hit"},
          {"x":87.6,"y":37.9,"r":"Base Hit"},{"x":92.8,"y":32,"r":"Base Hit"},{"x":101.7,"y":31.3,"r":"Base Hit"},{"x":102.4,"y":30.5,"r":"Base Hit"},{"x":66.1,"y":26.8,"r":"Base Hit"},
          {"x":72,"y":26.1,"r":"Base Hit"},{"x":69.8,"y":23.1,"r":"Base Hit"},{"x":80.2,"y":25.3,"r":"Base Hit"},{"x":88.3,"y":24.1,"r":"Base Hit"},{"x":92.8,"y":27.6,"r":"Base Hit"},
          {"x":96.5,"y":27.6,"r":"Base Hit"},{"x":100.2,"y":26.8,"r":"Base Hit"},{"x":104.6,"y":26.8,"r":"Base Hit"},{"x":69.1,"y":20.9,"r":"Base Hit"},{"x":70.6,"y":22.4,"r":"Base Hit"},
          {"x":88.3,"y":17.9,"r":"Base Hit"},{"x":92.8,"y":20.2,"r":"Base Hit"},{"x":96.5,"y":21.6,"r":"Base Hit"},{"x":97.2,"y":17.9,"r":"Base Hit"},{"x":100.9,"y":17.9,"r":"Base Hit"},
          {"x":105.4,"y":21.6,"r":"Base Hit"},{"x":107.6,"y":19.4,"r":"Base Hit"},{"x":69.1,"y":14.2,"r":"Base Hit"},{"x":78,"y":12,"r":"Base Hit"},{"x":83.1,"y":15.7,"r":"Base Hit"},
          {"x":89.1,"y":11.3,"r":"Base Hit"},{"x":92,"y":13.5,"r":"Base Hit"},{"x":95.7,"y":14.2,"r":"Base Hit"},{"x":98.7,"y":14.2,"r":"Base Hit"},{"x":103.1,"y":13.5,"r":"Base Hit"},
          {"x":107.6,"y":11.3,"r":"Base Hit"},{"x":110.5,"y":10.5,"r":"Base Hit"},{"x":94.3,"y":9,"r":"Base Hit"},{"x":97.2,"y":9.8,"r":"Base Hit"},{"x":101.7,"y":6.8,"r":"Base Hit"},
          {"x":107.6,"y":6.8,"r":"Base Hit"},{"x":97.9,"y":4.6,"r":"Base Hit"},{"x":103.1,"y":3.9,"r":"Base Hit"},{"x":105.4,"y":3.9,"r":"Base Hit"},{"x":112,"y":4.6,"r":"Base Hit"},
          {"x":89.8,"y":5.4,"r":"Base Hit"},{"x":94.3,"y":0.9,"r":"Base Hit"},{"x":95.7,"y":-1.3,"r":"Base Hit"},{"x":100.9,"y":0.9,"r":"Base Hit"},{"x":103.1,"y":-1.3,"r":"Base Hit"},
          {"x":103.9,"y":3.1,"r":"Base Hit"},{"x":106.8,"y":2.4,"r":"Base Hit"},{"x":112,"y":-0.6,"r":"Base Hit"},
          {"x":41.6,"y":-27.5,"r":"Base Hit"},{"x":41.3,"y":-32,"r":"Base Hit"},{"x":34.4,"y":-35.9,"r":"Base Hit"},{"x":49.3,"y":-29.4,"r":"Base Hit"},{"x":54.6,"y":-32.8,"r":"Base Hit"},
          {"x":69.4,"y":-2.8,"r":"Base Hit"},{"x":88.3,"y":-20.2,"r":"Base Hit"},{"x":84.6,"y":-25.3,"r":"Base Hit"},{"x":86.1,"y":-26.8,"r":"Base Hit"},{"x":84.6,"y":-28,"r":"Base Hit"},
          {"x":80.2,"y":-32.1,"r":"Base Hit"},{"x":83.9,"y":-32.4,"r":"Base Hit"},{"x":88.3,"y":-30.9,"r":"Base Hit"},{"x":104.6,"y":-29.9,"r":"Base Hit"},{"x":68.3,"y":-37.9,"r":"Base Hit"},
          {"x":85.1,"y":-39.3,"r":"Base Hit"},{"x":93.9,"y":-40.8,"r":"Base Hit"},{"x":65.5,"y":-49.4,"r":"Base Hit"},{"x":74.5,"y":-50.4,"r":"Base Hit"},{"x":95.7,"y":-28,"r":"Base Hit"},
          {"x":92.8,"y":-8,"r":"Base Hit"},{"x":102.4,"y":-3.5,"r":"Base Hit"},{"x":106.1,"y":-4.3,"r":"Base Hit"},{"x":108.3,"y":-5,"r":"Base Hit"},{"x":111.7,"y":-2.8,"r":"Base Hit"}
        ]
      },
      "mark": {"type": "point", "filled": true, "size": 36, "opacity": 1},
      "encoding": {
        "color": {"field": "r", "type": "nominal", "scale": {"domain": ["Base Hit", "Out"], "range": ["#00ee00", "#000000"]}, "legend": null}
      }
    },
    {
      "data": {"values": [{"x": 0, "y": 0}]},
      "mark": {"type": "point", "filled": true, "size": 34, "opacity": 1, "color": "#000000"}
    },
    {
      "data": {"values": [{"x": -22.1, "y": 0.4}]},
      "mark": {
        "type": "point",
        "filled": true,
        "opacity": 1,
        "color": "#9a9a9a",
        "size": 10678,
        "shape": "M-0.42,-0.89L-0.3,-0.93L-0.2,-0.9L-0.15,-0.82L-0.13,-0.7L-0.19,-0.6L-0.03,-0.47L0.19,-0.36L0.32,-0.32L0.71,-0.12L0.98,-0.02L1,0.08L0.94,0.11L0.65,-0.02L0.32,-0.21L0.23,-0.21L0.03,-0.26L-0.1,-0.3L-0.16,-0.21L-0.26,0.01L-0.19,0.21L-0.03,0.43L0.16,0.63L0.29,0.79L0.42,0.82L0.48,0.88L0.06,0.9L0.03,0.82L0.1,0.75L-0.13,0.53L-0.32,0.37L-0.45,0.4L-0.61,0.56L-0.77,0.69L-0.81,0.85L-0.9,0.9L-0.98,0.82L-0.97,0.67L-0.74,0.46L-0.59,0.24L-0.61,0.05L-0.66,-0.18L-0.66,-0.47L-0.61,-0.7L-0.52,-0.79Z"
      }
    },
    {
      "data": {
        "values": [
          {"x": 0.9, "y": 124.9, "t": "120 MPH"},
          {"x": 0.9, "y": 115.6, "t": "90 °"},
          {"x": 78.7, "y": 97.3, "t": "120 MPH"},
          {"x": 88, "y": 88.8, "t": "45 °"},
          {"x": 124.4, "y": -0.9, "t": "0 °"},
          {"x": 0.4, "y": -116.4, "t": "-90 °"},
          {"x": 0.9, "y": -125.8, "t": "120 MPH"}
        ]
      },
      "mark": {"type": "text", "align": "left", "baseline": "middle", "font": "Roboto Condensed, Liberation Sans Narrow, DejaVu Sans Condensed, Roboto", "fontSize": 11, "color": "#222222"},
      "encoding": {"text": {"field": "t"}}
    },
    {
      "data": {
        "values": [
          {"x": 134.2, "y": 98.4, "t": "Barrels (6)", "z": "Barrels"},
          {"x": 134.2, "y": 65.3, "t": "Solid Contact (17)", "z": "Solid Contact"},
          {"x": 134.2, "y": 32, "t": "Flares & Burners (124)", "z": "Flares & Burners"},
          {"x": 134.2, "y": -2, "t": "Topped (183)", "z": "Topped"},
          {"x": 134.2, "y": -35.5, "t": "Hit Under (110)", "z": "Hit Under"},
          {"x": 134.2, "y": -69, "t": "Weak Contact (17)", "z": "Weak Contact"}
        ]
      },
      "mark": {"type": "text", "align": "left", "baseline": "middle", "font": "Roboto Condensed, Liberation Sans Narrow, DejaVu Sans Condensed, Roboto", "fontSize": 15},
      "encoding": {
        "text": {"field": "t"},
        "color": {
          "field": "z",
          "type": "nominal",
          "scale": {
            "domain": ["Barrels", "Solid Contact", "Flares & Burners", "Topped", "Hit Under", "Weak Contact"],
            "range": ["#ec1c24", "#f8a3a6", "#f2a46e", "#9acb7c", "#92bbe6", "#fdd04f"]
          },
          "legend": null
        }
      }
    },
    {
      "data": {
        "values": [
          {"x": -49.9, "y": -101.3, "t": "Base Hit", "r": "Base Hit"},
          {"x": -49.9, "y": -112.1, "t": "Out", "r": "Out"}
        ]
      },
      "mark": {"type": "text", "align": "left", "baseline": "middle", "font": "Roboto Condensed, Liberation Sans Narrow, DejaVu Sans Condensed, Roboto", "fontSize": 14},
      "encoding": {
        "text": {"field": "t"},
        "color": {"field": "r", "type": "nominal", "scale": {"domain": ["Base Hit", "Out"], "range": ["#00ee00", "#222222"]}, "legend": null}
      }
    }
  ],
  "resolve": {"scale": {"color": "independent"}}
}
